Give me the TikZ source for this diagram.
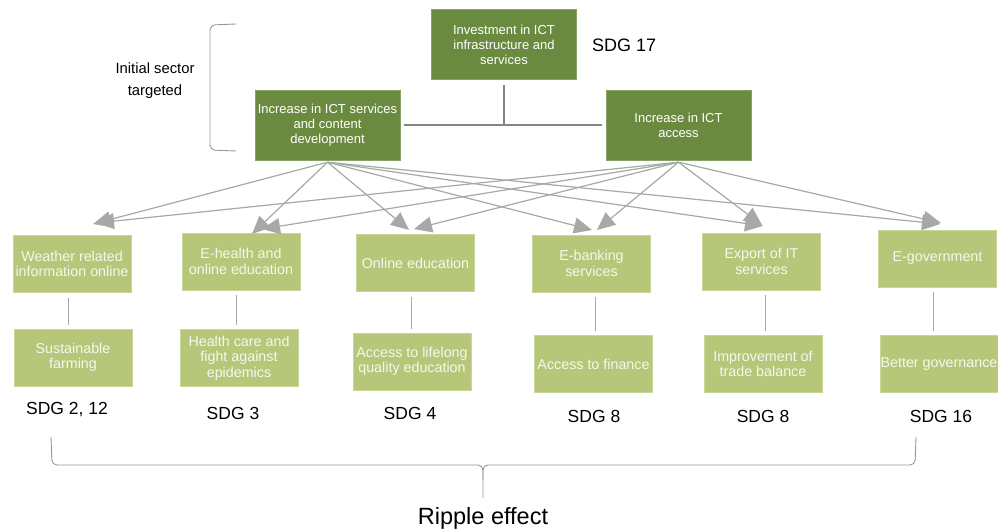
\documentclass[tikz,border=0pt]{standalone}
\usepackage{fontspec}
\setmainfont{Liberation Sans}
\usetikzlibrary{arrows.meta}
\definecolor{darkg}{HTML}{6A8B3F}
\definecolor{lightg}{HTML}{B6C77A}
\definecolor{lightgb}{HTML}{C9D69A}
\definecolor{linegray}{HTML}{A8A8A8}
\definecolor{thickgray}{HTML}{858585}
\definecolor{boxtext}{HTML}{F7F7EE}
\begin{document}
\begin{tikzpicture}[x=1pt,y=-1pt,
  darkbox/.style={fill=darkg, draw=darkg!80!white, text=white, inner sep=0pt, align=center,
     minimum width=145pt, minimum height=70pt, font=\fontsize{13}{15}\selectfont},
  lightbox/.style={fill=lightg, draw=lightgb, text=boxtext, inner sep=0pt, align=center,
     minimum width=118pt, minimum height=57pt, font=\fontsize{14.3}{15.5}\selectfont},
  sdg/.style={font=\fontsize{17.5}{19}\selectfont, inner sep=0pt},
  arr/.style={draw=linegray, line width=1.2pt, -{Triangle[length=18pt,width=16pt]}, fill=linegray},
  thinl/.style={draw=linegray, line width=1pt},
  thickl/.style={draw=thickgray, line width=2.6pt},
  brace/.style={draw=linegray!90!black, line width=0.9pt, rounded corners=5pt}
]
\useasboundingbox (0,0) rectangle (998,530);

% top nodes
\node[darkbox] (inv) at (504,44.5) {Investment in ICT\\infrastructure and\\services};
\node[font=\fontsize{18}{20}\selectfont, inner sep=0pt, anchor=west] (sdg17) at (592,45) {SDG 17};
\node[darkbox] (svc) at (327.5,125) {Increase in ICT services\\and content\\development};
\node[darkbox] (acc) at (678.5,125) {Increase in ICT\\access};
\node[align=center, font=\fontsize{14.8}{22}\selectfont] (init) at (155,81) {Initial sector\\targeted};

% connector between top nodes
\coordinate (jn) at (504,125);
\draw[thickl] ([yshift=-5pt]inv.south) -- (jn);
\draw[thickl] ([xshift=4pt]svc.east) -- ([xshift=-4pt]acc.west);

% left bracket
\coordinate (brA) at (236,24);
\coordinate (brB) at (236,151);
\draw[brace] (brA) -- (210,25) -- (210,150) -- (brB);

% first row
\node[lightbox] (w1) at (72,264) {Weather related\\information online};
\node[lightbox] (w2) at (241,261.5) {E-health and\\online education};
\node[lightbox] (w3) at (415.5,263) {Online education};
\node[lightbox] (w4) at (591.5,263.5) {E-banking\\services};
\node[lightbox] (w5) at (761.5,261.5) {Export of IT\\services};
\node[lightbox] (w6) at (937.5,258.5) {E-government};

% second row
\node[lightbox] (s1) at (73,357.5) {Sustainable\\farming};
\node[lightbox] (s2) at (239,358) {Health care and\\fight against\\epidemics};
\node[lightbox] (s3) at (412,361.5) {Access to lifelong\\quality education};
\node[lightbox] (s4) at (593.5,364) {Access to finance};
\node[lightbox] (s5) at (763,364) {Improvement of\\trade balance};
\node[lightbox] (s6) at (939,364) {Better governance};

% vertical connectors
\draw[thinl] ([yshift=-5pt]w1.south -| 68,0) -- ([yshift=4pt]s1.north -| 68,0);
\draw[thinl] ([yshift=-5pt]w2.south -| 236,0) -- ([yshift=4pt]s2.north -| 236,0);
\draw[thinl] ([yshift=-5pt]w3.south -| 411,0) -- ([yshift=4pt]s3.north -| 411,0);
\draw[thinl] ([yshift=-5pt]w4.south -| 595,0) -- ([yshift=4pt]s4.north -| 595,0);
\draw[thinl] ([yshift=-5pt]w5.south -| 765,0) -- ([yshift=4pt]s5.north -| 765,0);
\draw[thinl] ([yshift=-5pt]w6.south -| 933,0) -- ([yshift=4pt]s6.north -| 933,0);

% SDG labels
\node[sdg] (g1) at (67,410) {SDG 2, 12};
\node[sdg] (g2) at (233,413) {SDG 3};
\node[sdg] (g3) at (410,413) {SDG 4};
\node[sdg] (g4) at (594,416) {SDG 8};
\node[sdg] (g5) at (763,416) {SDG 8};
\node[sdg] (g6) at (941,416) {SDG 16};

% arrow targets
\coordinate (a1s) at (93,224);
\coordinate (a1a) at (96,223);
\coordinate (a2s) at (252,234);
\coordinate (a2a) at (262,229);
\coordinate (a3s) at (409,230);
\coordinate (a3a) at (414,229);
\coordinate (a4s) at (592,230);
\coordinate (a4a) at (597,230);
\coordinate (a5s) at (763,226);
\coordinate (a5a) at (762,225);
\coordinate (a6s) at (940,224);
\coordinate (a6a) at (941,223);

\coordinate (svcs) at ([yshift=-2pt]svc.south);
\coordinate (accs) at ([yshift=-2pt]acc.south);

\foreach \t in {1,...,6}{
  \draw[arr] (svcs) -- (a\t s);
  \draw[arr] (accs) -- (a\t a);
}

% bottom brace
\coordinate (bL) at (51,437);
\coordinate (bR) at (916,437);
\coordinate (bM) at (483,498);
\draw[brace] (bL) -- (52,465) -- (483,465) -- (bM);
\draw[brace] (483,480) -- (483,465) -- (915,465) -- (bR);
\node[font=\fontsize{23.5}{25}\selectfont, inner sep=0pt] (ripple) at (483,518) {Ripple effect};
\end{tikzpicture}
\end{document}
